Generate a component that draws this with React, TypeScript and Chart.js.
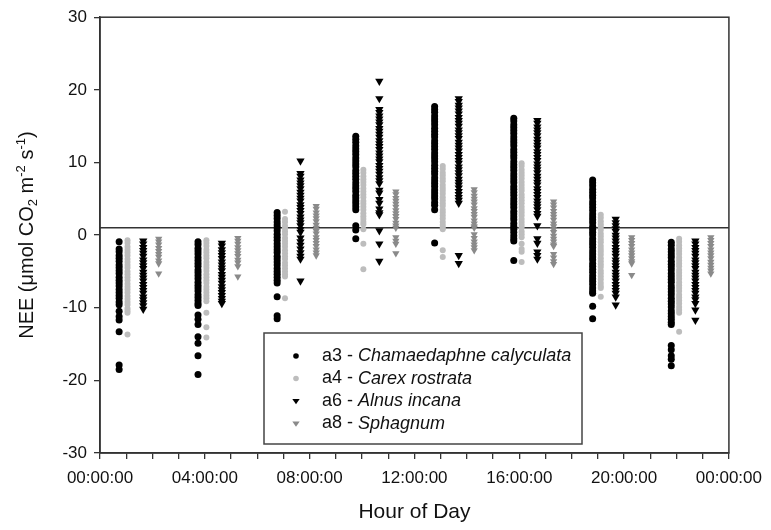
import React, { useEffect, useRef } from "react";
import { Chart, registerables } from "chart.js";

Chart.register(...registerables);

// ---- Data (hours of day for each measurement round, and NEE readings) ----
const a3Hours = [0.73, 3.74, 6.76, 9.76, 12.77, 15.79, 18.8, 21.8];
const a4Hours = [1.05, 4.06, 7.06, 10.05, 13.08, 16.09, 19.11, 22.1];
const a6Hours = [1.65, 4.65, 7.65, 10.66, 13.69, 16.69, 19.68, 22.72];
const a8Hours = [2.24, 5.26, 8.25, 11.29, 14.28, 17.31, 20.29, 23.31];

const a3Values: number[][] = [
  [-0.9, -1.9, -2.3, -2.8, -3.2, -3.6, -4.1, -4.5, -4.9, -5.3, -5.8, -6.2, -6.6, -7.0, -7.5, -7.9, -8.3, -8.7, -9.2, -9.6, -10.5, -11.2, -11.7, -13.3, -17.9, -18.5],
  [-0.9, -1.3, -1.8, -2.2, -2.6, -3.1, -3.5, -3.9, -4.3, -4.8, -5.2, -5.6, -6.0, -6.5, -6.9, -7.3, -7.7, -8.2, -8.6, -9.0, -9.4, -9.7, -11.0, -11.6, -12.3, -14.0, -14.9, -16.6, -19.2],
  [3.1, 2.7, 2.3, 1.8, 1.4, 1.0, 0.6, 0.1, -0.3, -0.7, -1.2, -1.6, -2.0, -2.4, -2.9, -3.3, -3.7, -4.1, -4.6, -5.0, -5.4, -5.8, -6.2, -6.6, -8.5, -11.1, -11.5],
  [13.6, 13.2, 12.8, 12.3, 11.9, 11.5, 11.1, 10.6, 10.2, 9.8, 9.4, 8.9, 8.5, 8.1, 7.7, 7.2, 6.8, 6.4, 6.0, 5.5, 5.1, 4.7, 4.3, 3.9, 3.5, 1.3, 0.7, -0.5],
  [17.7, 17.3, 16.9, 16.4, 16.0, 15.6, 15.2, 14.7, 14.3, 13.9, 13.5, 13.0, 12.6, 12.2, 11.8, 11.3, 10.9, 10.5, 10.1, 9.6, 9.2, 8.8, 8.4, 7.9, 7.5, 7.1, 6.7, 6.2, 5.8, 5.4, 5.0, 4.5, 4.1, 3.5, -1.1],
  [16.1, 15.7, 15.2, 14.8, 14.4, 14.0, 13.5, 13.1, 12.7, 12.3, 11.8, 11.4, 11.0, 10.6, 10.1, 9.7, 9.3, 8.9, 8.4, 8.0, 7.6, 7.2, 6.7, 6.3, 5.9, 5.5, 5.0, 4.6, 4.2, 3.8, 3.3, 2.9, 2.5, 2.1, 1.6, 1.2, 0.8, 0.4, -0.1, -0.5, -0.8, -3.5],
  [7.6, 7.2, 6.8, 6.3, 5.9, 5.5, 5.1, 4.6, 4.2, 3.8, 3.4, 2.9, 2.5, 2.1, 1.7, 1.2, 0.8, 0.4, 0.0, -0.5, -0.9, -1.3, -1.7, -2.2, -2.6, -3.0, -3.4, -3.9, -4.3, -4.7, -5.1, -5.6, -6.0, -6.4, -6.8, -7.3, -7.7, -8.0, -9.8, -11.5],
  [-1.0, -1.4, -1.9, -2.3, -2.7, -3.1, -3.6, -4.0, -4.4, -4.8, -5.3, -5.7, -6.1, -6.5, -7.0, -7.4, -7.8, -8.2, -8.7, -9.1, -9.5, -9.9, -10.4, -10.8, -11.2, -11.6, -12.0, -12.3, -15.2, -15.8, -16.6, -17.1, -18.0],
];

const a4Values: number[][] = [
  [-0.7, -1.1, -1.6, -2.0, -2.4, -2.8, -3.3, -3.7, -4.1, -4.5, -5.0, -5.4, -5.8, -6.2, -6.7, -7.1, -7.5, -7.9, -8.4, -8.8, -9.2, -9.6, -10.1, -10.4, -10.7, -13.7],
  [-0.7, -1.1, -1.5, -2.0, -2.4, -2.8, -3.2, -3.7, -4.1, -4.5, -4.9, -5.4, -5.8, -6.2, -6.6, -7.1, -7.5, -7.9, -8.3, -8.7, -9.1, -10.7, -12.7, -14.1],
  [3.2, 2.2, 1.8, 1.3, 0.9, 0.5, 0.1, -0.4, -0.8, -1.2, -1.6, -2.1, -2.5, -2.9, -3.3, -3.8, -4.2, -4.6, -5.0, -5.4, -5.7, -8.7],
  [9.0, 8.6, 8.1, 7.7, 7.3, 6.9, 6.4, 6.0, 5.6, 5.2, 4.7, 4.3, 3.9, 3.5, 3.0, 2.6, 2.2, 1.8, 1.5, 0.8, -1.2, -4.7],
  [9.5, 9.1, 8.6, 8.2, 7.8, 7.4, 6.9, 6.5, 6.1, 5.7, 5.2, 4.8, 4.4, 4.0, 3.5, 3.1, 2.7, 2.3, 1.8, 1.4, 1.0, 0.8, -2.1, -3.0],
  [9.9, 9.5, 9.0, 8.6, 8.2, 7.8, 7.3, 6.9, 6.5, 6.1, 5.6, 5.2, 4.8, 4.4, 3.9, 3.5, 3.1, 2.7, 2.2, 1.8, 1.4, 1.0, 0.5, 0.1, -0.3, -1.2, -1.9, -2.3, -3.7],
  [2.8, 2.4, 1.9, 1.5, 1.1, 0.7, 0.2, -0.2, -0.6, -1.0, -1.5, -1.9, -2.3, -2.7, -3.2, -3.6, -4.0, -4.4, -4.9, -5.3, -5.7, -6.1, -6.6, -7.0, -7.3, -8.5],
  [-0.5, -0.9, -1.4, -1.8, -2.2, -2.6, -3.1, -3.5, -3.9, -4.3, -4.8, -5.2, -5.6, -6.0, -6.5, -6.9, -7.3, -7.7, -8.2, -8.6, -9.0, -9.4, -9.9, -10.3, -10.7, -13.3],
];

const a6Values: number[][] = [
  [-0.8, -1.2, -1.7, -2.1, -2.5, -2.9, -3.4, -3.8, -4.2, -4.6, -5.1, -5.5, -5.9, -6.3, -6.8, -7.2, -7.6, -8.0, -8.5, -8.9, -9.3, -9.7, -10.2],
  [-1.1, -1.5, -2.0, -2.4, -2.8, -3.2, -3.7, -4.1, -4.5, -4.9, -5.4, -5.8, -6.2, -6.6, -7.1, -7.5, -7.9, -8.3, -8.7, -9.1, -9.4],
  [10.2, 8.5, 8.1, 7.6, 7.2, 6.8, 6.4, 5.9, 5.5, 5.1, 4.7, 4.2, 3.8, 3.4, 3.0, 2.5, 2.1, 1.7, 1.3, 0.8, 0.4, -0.4, -0.9, -1.4, -1.9, -2.4, -2.9, -3.3, -6.3],
  [21.2, 18.8, 17.3, 16.9, 16.4, 16.0, 15.6, 15.2, 14.7, 14.3, 13.9, 13.5, 13.0, 12.6, 12.2, 11.8, 11.3, 10.9, 10.5, 10.1, 9.6, 9.2, 8.8, 8.4, 7.9, 7.5, 7.1, 6.2, 5.8, 4.9, 4.4, 3.6, 3.1, 2.8, 0.6, -1.2, -3.6],
  [18.8, 18.4, 17.9, 17.5, 17.1, 16.7, 16.2, 15.8, 15.4, 15.0, 14.5, 14.1, 13.7, 13.3, 12.8, 12.4, 12.0, 11.6, 11.1, 10.7, 10.3, 9.9, 9.4, 9.0, 8.6, 8.2, 7.7, 7.3, 6.9, 6.5, 6.0, 5.6, 5.2, 4.8, 4.4, -2.8, -3.9],
  [15.8, 15.4, 14.9, 14.5, 14.1, 13.7, 13.2, 12.8, 12.4, 12.0, 11.5, 11.1, 10.7, 10.3, 9.8, 9.4, 9.0, 8.6, 8.1, 7.7, 7.3, 6.9, 6.4, 6.0, 5.6, 5.2, 4.7, 4.3, 3.9, 3.5, 3.0, 2.6, 1.3, -0.5, -1.1, -2.3, -2.8, -3.3],
  [2.2, 1.7, 1.3, 0.9, 0.5, 0.0, -0.4, -0.8, -1.2, -1.7, -2.1, -2.5, -2.9, -3.4, -3.8, -4.2, -4.6, -5.1, -5.5, -5.9, -6.3, -6.8, -7.2, -7.6, -8.0, -8.5, -9.6],
  [-0.8, -1.2, -1.7, -2.1, -2.5, -2.9, -3.4, -3.8, -4.2, -4.6, -5.1, -5.5, -5.9, -6.3, -6.8, -7.2, -7.6, -8.0, -8.5, -8.9, -9.4, -10.3, -11.7],
];

const a8Values: number[][] = [
  [-0.5, -0.9, -1.3, -1.8, -2.2, -2.6, -3.0, -3.5, -3.9, -5.3],
  [-0.4, -0.8, -1.2, -1.7, -2.1, -2.5, -2.9, -3.4, -3.8, -4.3, -5.7],
  [4.0, 3.6, 3.1, 2.7, 2.3, 1.9, 1.4, 1.0, 0.6, 0.2, -0.3, -0.7, -1.1, -1.5, -2.0, -2.4, -2.8],
  [6.0, 5.6, 5.1, 4.7, 4.3, 3.9, 3.4, 3.0, 2.6, 2.2, 1.7, 1.3, 1.0, -0.3, -0.8, -1.2, -2.5],
  [6.3, 5.9, 5.4, 5.0, 4.6, 4.2, 3.7, 3.3, 2.9, 2.5, 2.0, 1.6, 1.2, 1.0, 0.1, -0.4, -0.9, -1.3, -1.7, -2.1],
  [4.6, 4.2, 3.8, 3.3, 2.9, 2.5, 2.1, 1.6, 1.2, 0.8, 0.4, -0.1, -0.5, -0.9, -1.3, -1.5, -2.6, -3.1, -3.6, -4.0],
  [-0.3, -0.7, -1.1, -1.5, -2.0, -2.4, -2.8, -3.2, -3.6, -3.9, -5.5],
  [-0.3, -0.7, -1.1, -1.5, -2.0, -2.4, -2.8, -3.2, -3.7, -4.1, -4.5, -4.9, -5.3],
];

const seriesCodes = ["a3", "a4", "a6", "a8"];
const seriesSpecies = ["Chamaedaphne calyculata", "Carex rostrata", "Alnus incana", "Sphagnum"];
const referenceLevel = 1;
const xRange = [0, 24];
const yRange = [-30, 30];

const FONT = "'Liberation Sans', Arial, Helvetica, sans-serif";

const styles = [
  { color: "#000000", shape: "circle", radius: 3.5 },
  { color: "#bdbdbd", shape: "circle", radius: 3 },
  { color: "#000000", shape: "triangle", radius: 4.8 },
  { color: "#8a8a8a", shape: "triangle", radius: 4.2 },
];

function toPoints(hours: number[], values: number[][]) {
  const pts: { x: number; y: number }[] = [];
  hours.forEach((h, i) => values[i].forEach((v) => pts.push({ x: h, y: v })));
  return pts;
}

function fmtHour(v: number) {
  const h = v % 24;
  return (h < 10 ? "0" : "") + h + ":00:00";
}

function drawMarker(ctx: CanvasRenderingContext2D, shape: string, x: number, y: number, r: number, color: string) {
  ctx.fillStyle = color;
  ctx.beginPath();
  if (shape === "circle") {
    ctx.arc(x, y, r, 0, Math.PI * 2);
  } else {
    const w = r * 1.15;
    ctx.moveTo(x - w, y - r * 0.6);
    ctx.lineTo(x + w, y - r * 0.6);
    ctx.lineTo(x, y + r * 1.0);
    ctx.closePath();
  }
  ctx.fill();
}

const framePlugin = {
  id: "frame",
  afterDraw(chart: any) {
    const { ctx, chartArea } = chart;
    ctx.save();
    ctx.strokeStyle = "#333";
    ctx.lineWidth = 1.5;
    ctx.strokeRect(chartArea.left, chartArea.top, chartArea.right - chartArea.left, chartArea.bottom - chartArea.top);
    ctx.restore();
  },
};

const yTitlePlugin = {
  id: "yTitle",
  afterDraw(chart: any) {
    const { ctx, chartArea } = chart;
    const cy = (chartArea.top + chartArea.bottom) / 2;
    const segs = [
      { t: "NEE (μmol CO", k: "n" },
      { t: "2", k: "sub" },
      { t: " m", k: "n" },
      { t: "-2", k: "sup" },
      { t: " s", k: "n" },
      { t: "-1", k: "sup" },
      { t: ")", k: "n" },
    ];
    const fontFor = (k: string) => (k === "n" ? `20px ${FONT}` : `13px ${FONT}`);
    ctx.save();
    ctx.translate(33, cy);
    ctx.rotate(-Math.PI / 2);
    let total = 0;
    segs.forEach((s) => {
      ctx.font = fontFor(s.k);
      total += ctx.measureText(s.t).width;
    });
    let x = -total / 2;
    ctx.fillStyle = "#111";
    ctx.textBaseline = "alphabetic";
    ctx.textAlign = "left";
    segs.forEach((s) => {
      ctx.font = fontFor(s.k);
      const dy = s.k === "sub" ? 4 : s.k === "sup" ? -8 : 0;
      ctx.fillText(s.t, x, dy);
      x += ctx.measureText(s.t).width;
    });
    ctx.restore();
  },
};

const legendPlugin = {
  id: "boxLegend",
  afterDraw(chart: any) {
    const { ctx } = chart;
    const box = { left: 264, top: 333, right: 582, bottom: 444 };
    ctx.save();
    ctx.fillStyle = "#fff";
    ctx.fillRect(box.left, box.top, box.right - box.left, box.bottom - box.top);
    ctx.strokeStyle = "#444";
    ctx.lineWidth = 1.5;
    ctx.strokeRect(box.left, box.top, box.right - box.left, box.bottom - box.top);
    const rowH = 22.5;
    const firstRow = 356;
    ctx.textBaseline = "middle";
    ctx.textAlign = "left";
    seriesCodes.forEach((code, i) => {
      const y = firstRow + i * rowH;
      const st = styles[i];
      drawMarker(ctx, st.shape, 296, y, st.shape === "circle" ? 2.8 : 3.2, st.color);
      ctx.fillStyle = "#111";
      ctx.font = `18px ${FONT}`;
      const prefix = code + " - ";
      ctx.fillText(prefix, 322, y);
      const w = ctx.measureText(prefix).width;
      ctx.font = `italic 18px ${FONT}`;
      ctx.fillText(seriesSpecies[i], 322 + w, y);
    });
    ctx.restore();
  },
};

export default function App() {
  const ref = useRef<HTMLCanvasElement | null>(null);

  useEffect(() => {
    if (!ref.current) return;
    const allHours = [a3Hours, a4Hours, a6Hours, a8Hours];
    const allValues = [a3Values, a4Values, a6Values, a8Values];
    const datasets: any[] = seriesCodes.map((code, i) => ({
      type: "scatter",
      label: code + " - " + seriesSpecies[i],
      data: toPoints(allHours[i], allValues[i]),
      pointStyle: styles[i].shape,
      rotation: styles[i].shape === "triangle" ? 180 : 0,
      pointRadius: styles[i].radius,
      pointBackgroundColor: styles[i].color,
      pointBorderColor: styles[i].color,
      pointBorderWidth: 0,
      order: 1,
    }));
    datasets.push({
      type: "line",
      label: "reference",
      data: [
        { x: xRange[0], y: referenceLevel },
        { x: xRange[1], y: referenceLevel },
      ],
      borderColor: "#333",
      borderWidth: 1.5,
      pointRadius: 0,
      order: 5,
    });

    const chart = new Chart(ref.current, {
      type: "scatter",
      data: { datasets },
      options: {
        animation: false,
        responsive: false,
        maintainAspectRatio: false,
        layout: { padding: { top: 10, right: 40, left: 0, bottom: 0 } },
        plugins: {
          legend: { display: false },
          tooltip: { enabled: false },
          title: { display: false },
        },
        scales: {
          x: {
            type: "linear",
            min: xRange[0],
            max: xRange[1],
            afterFit: (s: any) => {
              s.height = 77;
            },
            ticks: {
              stepSize: 1,
              autoSkip: false,
              maxRotation: 0,
              minRotation: 0,
              padding: 9,
              color: "#111",
              font: { family: FONT, size: 17 },
              callback: (v: any) => (Number(v) % 4 === 0 ? fmtHour(Number(v)) : ""),
            },
            grid: { drawOnChartArea: false, drawTicks: true, tickLength: 6, color: "#333", lineWidth: 1.3 },
            border: { display: true, color: "#333", width: 1.5 },
            title: {
              display: true,
              text: "Hour of Day",
              color: "#111",
              font: { family: FONT, size: 21 },
              padding: { top: 0, bottom: 5 },
            },
          },
          y: {
            type: "linear",
            min: yRange[0],
            max: yRange[1],
            afterFit: (s: any) => {
              s.width = 100;
            },
            ticks: {
              stepSize: 10,
              padding: 7,
              color: "#111",
              font: { family: FONT, size: 17 },
            },
            grid: { drawOnChartArea: false, drawTicks: true, tickLength: 6, color: "#333", lineWidth: 1.3 },
            border: { display: true, color: "#333", width: 1.5 },
            title: { display: false },
          },
        },
      },
      plugins: [framePlugin, yTitlePlugin, legendPlugin],
    } as any);
    return () => chart.destroy();
  }, []);

  return (
    <div style={{ position: "fixed", left: 0, top: 0, width: 771, height: 530, background: "#fff" }}>
      <canvas ref={ref} width={771} height={530} style={{ display: "block", width: 771, height: 530 }} />
    </div>
  );
}
